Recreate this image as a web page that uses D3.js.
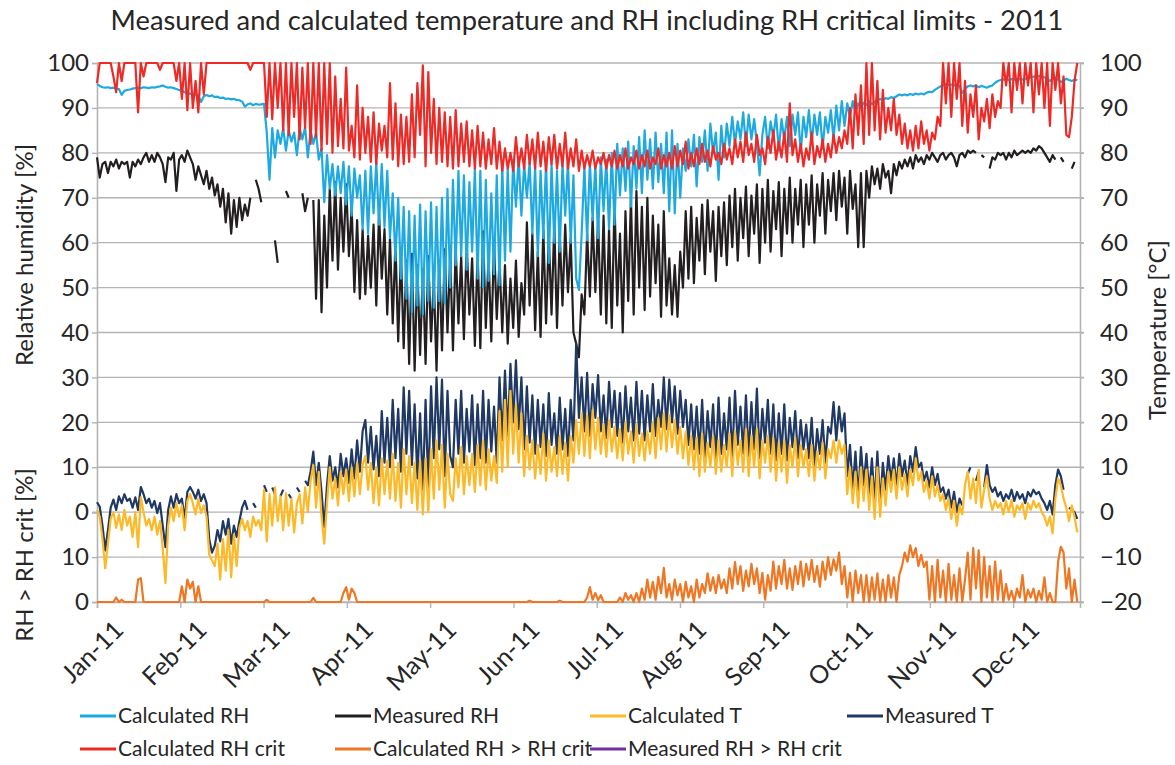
<!DOCTYPE html>
<html><head><meta charset="utf-8">
<script src="https://cdn.jsdelivr.net/npm/d3@7"></script>
<style>
body{margin:0;background:#fff}
svg{display:block}
text{font-family:Lato,"Open Sans",sans-serif;fill:#262626}
</style></head>
<body><svg id="chart" width="1175" height="765"></svg>
<script>
// ---- tick labels & series names ----
const monthLabels = ["Jan-11","Feb-11","Mar-11","Apr-11","May-11","Jun-11","Jul-11","Aug-11","Sep-11","Oct-11","Nov-11","Dec-11"];
const seriesNames = ["Calculated RH","Measured RH","Calculated T","Measured T","Calculated RH crit","Calculated RH > RH crit","Measured RH > RH crit"];
const rhTicks = [0,10,20,30,40,50,60,70,80,90,100];
const excTicks = [0,10];
const tTicks = [-20,-10,0,10,20,30,40,50,60,70,80,90,100];

// ---- daily values (one per day) ----
const calcRH = [
95.3,94.9,94.6,94.5,94.6,94.4,94.5,94.3,94.2,92.9,
93.8,94.0,94.1,94.3,94.4,94.5,94.4,94.6,94.5,94.4,
94.6,94.5,94.7,94.8,95.0,94.7,94.5,94.6,94.4,94.2,
94.0,93.8,93.5,93.3,93.2,92.9,93.0,92.8,91.3,92.6,
92.9,92.6,92.8,92.4,92.5,92.2,92.3,92.0,92.1,91.9,
92.0,91.8,91.7,91.4,90.3,90.8,91.0,90.6,90.9,90.7,
90.8,90.9,84.5,74.0,85.5,79.0,85.0,82.0,85.5,80.5,
85.0,82.5,84.5,79.5,85.5,83.0,85.7,79.0,85.0,82.0,
84.5,78.5,81.0,69.0,79.5,72.0,77.5,70.5,77.0,71.0,
78.0,68.5,77.0,66.0,76.5,70.0,75.0,63.0,76.0,62.0,
77.0,66.5,78.0,64.0,77.5,63.5,76.0,61.0,71.0,56.0,
70.0,52.0,68.0,47.5,67.0,44.5,66.0,46.0,68.5,44.0,
67.0,47.0,69.0,45.5,68.0,47.0,70.0,46.5,72.0,50.0,
74.0,55.0,76.0,57.0,75.0,54.0,73.5,58.0,76.5,52.0,
76.0,50.0,74.0,51.5,71.0,53.0,75.0,50.5,77.5,56.0,
76.5,58.0,78.5,68.0,79.0,66.0,77.5,70.0,78.0,62.0,
77.0,57.0,76.0,61.0,78.0,55.5,77.5,60.0,76.0,58.0,
77.5,66.0,78.0,60.0,75.0,52.0,49.5,62.0,77.0,60.5,
78.0,65.0,77.5,61.0,79.0,67.0,78.5,63.0,80.0,64.0,
82.0,70.5,81.0,71.5,82.5,68.0,81.5,72.0,83.5,71.0,
85.0,74.0,83.0,72.0,84.5,73.5,82.0,71.0,84.5,67.0,
85.0,66.5,82.0,70.0,81.0,76.0,83.0,77.0,84.0,72.5,
83.5,78.0,85.0,76.0,86.5,80.0,84.5,74.0,86.0,79.0,
86.5,81.5,88.0,82.0,87.0,83.0,89.0,81.5,88.5,83.0,
87.5,82.0,75.0,84.0,88.0,81.0,87.0,83.5,88.5,80.5,
87.5,83.0,88.0,81.5,88.5,84.0,89.0,80.0,88.0,83.5,
89.5,82.0,88.5,84.0,89.0,81.0,88.0,84.5,89.5,83.0,
90.5,85.0,91.5,86.0,91.0,88.0,91.5,89.0,91.0,90.0,
91.2,90.6,91.5,90.8,91.4,91.8,92.0,91.7,92.2,92.0,
92.4,92.2,92.6,93.0,92.8,93.0,92.8,93.1,92.9,93.2,
93.0,93.2,93.0,93.4,93.6,93.5,94.0,94.4,94.8,95.0,
95.3,95.1,95.2,95.0,95.3,94.8,93.3,94.2,94.8,95.0,
94.8,95.0,94.6,94.9,94.7,94.5,94.8,95.0,95.6,96.0,
96.2,96.3,96.4,96.2,96.4,96.3,96.5,96.4,96.3,96.5,
96.6,96.8,97.0,96.9,97.1,97.0,96.8,96.5,96.0,96.4,
96.8,96.3,95.8,96.0,96.5,96.2,96.0,96.3,96.2];

const measRH = [
79.0,74.5,77.5,78.0,75.5,78.0,77.0,78.5,76.5,78.0,
77.5,78.0,74.5,78.0,77.0,78.5,77.5,79.0,80.0,78.0,
79.5,78.0,80.0,79.0,77.5,73.5,79.0,78.5,80.0,71.5,
78.5,79.5,78.0,80.5,79.0,77.5,74.0,77.0,75.0,73.0,
76.0,72.0,74.5,70.5,73.0,68.0,72.0,64.5,71.0,62.0,
69.5,63.5,70.0,65.0,68.5,66.0,70.0,null,74.0,72.0,
69.0,null,null,null,null,60.5,55.5,null,null,71.5,
70.0,null,null,null,null,71.0,67.0,70.0,null,69.5,
47.5,69.5,44.5,66.0,50.0,72.0,56.0,73.5,54.0,70.0,
58.0,73.0,57.0,68.0,49.0,65.0,47.5,63.0,48.5,61.5,
50.0,64.0,46.0,66.5,52.0,63.0,44.0,61.0,42.0,60.0,
38.0,58.0,36.5,56.0,33.0,57.5,31.5,55.0,35.0,54.0,
33.0,57.0,38.0,52.0,31.5,56.0,36.0,58.5,40.0,57.0,
36.0,59.0,42.0,57.0,38.5,60.0,44.0,56.5,37.0,58.0,
36.5,62.5,41.0,57.0,38.0,60.0,43.0,56.0,40.0,55.0,
37.5,52.0,41.0,56.0,39.0,51.0,44.0,64.5,46.0,62.0,
40.5,58.0,39.0,63.0,42.0,61.5,44.0,64.0,41.0,62.0,
46.0,64.0,49.0,61.0,40.0,37.5,34.5,48.5,44.0,62.0,
48.0,65.5,49.0,65.0,44.0,66.0,42.0,63.0,41.0,69.0,
46.0,62.0,40.0,67.0,47.0,70.0,44.0,71.5,50.0,68.0,
45.0,70.0,48.0,66.0,51.0,64.0,43.5,67.0,46.0,56.5,
44.0,55.0,43.5,58.0,50.0,67.0,52.0,68.0,51.0,65.5,
56.0,68.5,53.0,69.5,58.0,67.0,51.5,68.0,57.0,69.0,
55.0,70.5,59.0,72.0,56.0,70.0,61.0,72.5,57.0,70.5,
62.0,73.0,55.5,72.0,60.0,74.0,58.0,71.5,63.0,73.5,
57.0,72.0,62.0,74.5,60.0,72.0,64.0,74.0,59.0,73.0,
64.0,75.0,60.0,73.0,66.0,75.5,62.0,74.0,67.0,75.5,
65.0,76.0,68.0,74.5,62.0,76.0,67.5,73.0,59.0,75.5,
59.0,76.0,70.0,77.0,73.0,76.5,72.0,77.5,74.5,76.0,
71.0,77.5,75.0,78.0,76.5,78.5,77.0,79.0,76.5,79.5,
78.0,79.0,77.5,79.5,78.5,80.0,79.0,78.0,79.5,80.0,
78.5,79.5,80.0,79.0,77.0,79.5,80.0,79.0,80.5,80.0,
80.5,80.0,null,79.5,79.0,null,76.5,79.0,78.5,80.0,
79.5,80.0,78.5,80.0,79.0,80.5,79.5,80.0,80.5,80.0,
80.5,80.0,81.0,80.5,81.5,81.0,80.0,79.0,78.0,79.5,
78.5,null,79.0,78.0,null,null,76.5,78.0,null];

const calcT = [
0.5,-1.0,-6.0,-12.5,-7.0,-1.5,0.0,-3.5,-0.5,-4.0,
0.5,-3.0,-1.0,-5.5,0.0,-7.8,3.3,0.0,-3.0,-1.5,
-4.0,-1.0,-5.0,-2.0,-8.0,-15.8,-3.0,1.0,-2.0,2.0,
-1.0,1.5,-4.0,2.5,4.0,2.0,-0.5,3.0,-0.2,1.5,
-1.0,-9.5,-10.7,-12.0,-7.0,-15.0,-6.0,-13.0,-4.0,-14.5,
-5.0,-12.0,-3.5,-1.5,-4.0,-2.0,-5.5,-1.0,-3.0,-1.8,
-4.0,5.0,-6.5,4.0,-3.0,5.5,-2.0,3.5,-4.0,4.2,
-3.0,3.0,-4.5,2.0,4.0,-2.5,5.5,0.0,7.0,10.5,
1.0,9.0,-1.0,-7.0,2.0,10.0,3.0,7.5,1.5,9.0,
4.0,9.5,2.5,10.0,3.5,11.0,4.0,10.5,12.5,5.0,
11.0,2.0,10.0,1.5,12.0,4.0,11.5,3.0,13.0,2.5,
11.0,1.0,14.0,4.0,12.5,2.0,11.0,0.5,11.5,-0.5,
12.0,0.0,14.0,3.0,16.0,5.0,15.0,1.0,13.0,4.0,
2.5,12.0,5.5,14.5,4.0,12.5,6.0,13.0,4.5,15.0,
6.0,16.0,5.0,14.0,7.0,12.5,6.5,22.5,9.0,25.0,
10.0,27.0,13.0,24.0,11.0,22.0,8.0,17.0,9.5,16.0,
7.5,15.0,8.5,17.5,7.0,16.0,9.0,14.5,8.0,17.0,
8.5,15.5,7.0,17.0,11.0,20.5,13.0,22.0,12.5,21.5,
12.0,22.7,14.0,21.0,13.0,19.5,12.3,20.5,13.5,19.0,
12.0,18.5,11.5,20.0,13.0,18.0,11.0,19.5,12.5,17.5,
11.5,18.0,13.0,20.0,12.0,21.0,14.0,22.0,13.5,21.5,
14.5,20.5,13.0,19.0,12.0,18.0,10.5,17.0,9.5,16.5,
8.0,17.5,9.0,15.5,10.0,17.0,8.5,16.0,9.0,15.0,
10.0,17.5,8.0,18.0,10.5,16.0,9.0,18.5,8.0,17.0,
10.0,18.5,7.5,16.0,11.0,17.0,9.0,16.5,7.0,15.5,
9.0,16.0,6.5,15.0,10.0,16.5,8.0,15.0,10.0,14.0,
8.0,15.0,7.0,13.5,9.5,15.5,7.5,14.0,12.0,16.0,
11.0,16.0,13.0,15.0,4.0,10.0,2.0,9.0,1.0,10.0,
2.5,9.5,0.5,8.0,-1.5,10.0,-1.0,7.5,1.5,9.0,
4.5,9.5,3.0,10.0,5.0,8.5,3.5,9.5,6.0,12.0,
7.0,9.0,4.5,7.0,3.0,8.0,3.5,6.0,2.5,4.0,
0.5,3.0,-1.5,2.5,-3.0,1.5,-0.5,6.0,9.0,3.0,
7.5,2.0,9.4,1.0,5.0,8.0,3.0,0.5,2.5,1.0,
2.0,-0.5,2.5,0.0,2.7,-1.0,1.5,0.5,2.0,-1.5,
2.0,0.5,2.5,1.0,2.0,0.0,-1.0,-3.0,-1.0,-4.7,
3.0,7.5,6.0,3.0,1.0,-2.0,1.5,-1.0,-4.5];

const measT = [
2.2,1.2,-3.0,-8.5,-4.0,1.0,2.8,0.5,3.5,2.0,
4.0,2.5,3.0,1.0,3.3,0.5,5.6,4.0,2.0,3.0,
1.0,2.5,-0.2,2.0,-3.0,-7.8,0.5,3.5,1.0,4.0,
2.0,3.0,-1.5,4.5,5.6,4.5,3.0,5.0,2.5,4.0,
2.0,-6.0,-9.0,-7.5,-4.0,-6.5,-2.0,-5.0,-1.5,-7.0,
-3.0,-5.5,-2.0,1.0,2.5,0.5,null,2.0,1.0,null,
null,6.0,4.5,null,5.5,4.0,null,3.5,5.0,null,
4.0,3.0,null,5.5,4.5,null,7.0,6.0,9.0,13.5,
6.0,11.0,4.5,-3.3,6.0,12.5,7.0,10.0,5.5,13.0,
8.0,12.0,6.5,14.0,7.5,16.0,9.0,18.0,20.5,11.0,
19.0,9.5,17.0,8.0,22.5,11.0,21.0,10.0,25.0,12.0,
23.0,9.0,27.8,13.0,27.0,10.5,24.0,7.5,22.0,5.0,
25.0,5.5,28.0,12.0,30.0,14.0,29.5,8.0,27.0,12.5,
10.0,25.0,13.0,27.0,11.0,23.0,13.5,26.0,10.5,24.0,
12.0,27.0,11.0,25.0,13.5,23.5,11.0,30.0,16.0,31.5,
17.0,33.0,20.0,33.8,18.5,30.0,14.0,28.0,15.5,26.0,
13.0,25.0,14.5,24.0,12.5,26.5,15.0,22.0,13.0,25.5,
14.0,23.0,12.5,25.0,16.0,37.6,21.0,30.0,18.0,31.0,
17.0,28.5,21.0,30.5,18.0,26.0,16.5,29.0,19.0,27.0,
17.0,26.5,15.5,28.0,18.0,25.5,16.0,29.0,17.5,27.0,
16.0,26.0,18.0,28.5,17.0,25.0,19.0,30.0,18.5,29.5,
20.0,28.0,17.5,27.0,19.0,25.0,15.0,24.0,14.0,23.5,
13.0,25.0,12.0,22.5,14.5,24.0,11.5,25.5,13.0,22.0,
14.0,25.5,12.0,27.0,15.0,23.5,13.0,26.0,12.5,24.5,
14.0,27.5,12.0,23.0,15.5,25.0,13.0,24.0,11.5,22.0,
13.0,24.0,11.5,21.0,14.5,22.5,12.0,20.5,14.0,19.5,
12.0,21.0,10.0,18.5,13.0,20.5,11.0,19.0,17.5,24.5,
16.0,23.5,18.0,22.0,8.0,15.0,5.0,13.5,3.0,14.5,
6.0,13.0,4.0,12.0,2.0,13.5,1.5,11.0,5.0,12.5,
7.0,12.0,5.5,13.0,8.0,11.5,6.0,12.5,9.0,14.5,
10.0,11.0,7.0,9.0,5.5,10.0,6.0,8.5,4.5,5.5,
3.0,5.0,1.0,4.5,0.0,3.0,1.5,null,8.5,10.0,
null,7.0,9.0,null,5.5,10.5,6.0,4.5,5.5,3.5,
4.5,2.5,4.0,3.0,5.0,2.5,4.5,3.0,4.0,2.0,
4.5,3.5,5.0,4.0,4.5,3.0,2.0,0.5,2.5,-0.5,
6.0,9.5,8.0,5.0,null,1.0,0.5,0.0,-1.5];

const calcRHcrit = [
95.5,100,100,100,100,100,97.0,93.5,100,96.0,
100,100,100,100,100,89.0,100,97.0,100,100,
100,100,100,98.5,100,100,100,100,100,96.0,
100,92.0,100,89.5,100,90.0,96.0,89.0,100,93.0,
100,100,100,100,100,100,100,100,100,100,
100,100,100,100,100,100,98.5,100,100,100,
100,100,88.0,100,87.5,100,90.0,100,85.0,100,
84.0,100,88.0,100,83.0,99.0,85.5,100,82.0,100,
83.5,100,80.5,100,82.0,100,80.0,97.0,81.5,92.0,
81.0,99.0,80.5,86.0,79.0,95.0,78.5,90.0,80.0,88.0,
78.0,89.0,77.5,86.5,80.5,86.0,79.0,95.5,78.5,91.0,
77.0,88.5,77.5,88.0,78.0,93.0,79.0,95.5,84.0,99.5,
77.0,98.0,80.0,92.0,77.5,90.0,78.0,89.0,77.0,88.0,
76.5,89.5,77.0,86.5,78.0,87.0,77.0,85.0,76.5,86.0,
77.0,84.5,76.5,83.0,77.5,85.5,76.5,82.5,76.0,81.0,
76.5,80.0,76.0,83.5,77.0,81.0,76.5,84.0,77.5,83.0,
76.5,84.5,77.0,82.5,76.0,83.5,77.5,84.0,76.5,82.0,
77.0,84.5,76.5,81.0,77.0,83.0,76.0,80.5,76.5,79.5,
77.0,80.5,76.5,79.0,77.5,80.0,76.5,79.5,77.0,80.5,
76.5,79.5,77.0,81.0,76.5,79.0,77.5,80.5,76.5,79.5,
77.0,80.5,76.5,79.0,77.5,81.0,76.5,79.5,77.0,80.0,
76.5,81.5,77.0,80.5,77.5,82.5,76.5,80.0,77.0,81.0,
77.5,82.0,78.0,80.5,77.0,81.5,78.5,80.0,77.5,82.0,
78.5,81.0,77.5,83.0,79.0,82.5,78.0,84.5,79.5,82.0,
78.0,84.0,79.5,81.0,77.5,83.5,80.0,85.0,78.5,82.5,
79.0,84.5,78.0,91.0,79.5,83.0,78.0,82.0,77.0,81.0,
78.5,84.5,77.5,81.5,79.0,83.0,78.0,82.0,79.0,84.0,
80.0,83.5,81.0,85.0,82.0,90.0,81.0,93.0,84.0,95.0,
82.0,100,84.0,100,85.0,96.0,83.0,94.0,84.5,90.0,
85.0,92.0,84.0,88.5,82.0,86.5,81.0,85.0,80.5,86.0,
81.0,87.0,82.0,85.0,80.5,84.5,83.0,88.0,86.0,100,
91.0,100,88.0,100,92.0,100,86.0,96.0,84.5,93.0,
88.0,95.0,83.0,90.0,87.0,92.0,85.5,93.0,88.0,91.5,
90.0,100,95.0,100,89.0,100,94.0,100,91.0,100,
95.0,100,89.0,100,93.0,100,90.0,100,86.0,100,
94.0,100,91.0,97.0,84.0,83.5,88.0,96.0,100];

const calcRHexc = [
0,0,0,0,0,0,0,1.0,0,0.5,
0,0,0,0,0,5.0,5.3,0,0,0,
0,0,0,0,0,0,0,0,0,0,
0,3.5,0,5.0,3.0,4.5,0,3.5,0,0,
0,0,0,0,0,0,0,0,0,0,
0,0,0,0,0,0,0,0,0,0,
0,0,0.5,0,0,0,0,0,0,0,
0,0,0,0,0,0,0,0,0,0.9,
0,0,0,0,0,0,0,0,0,0,
2.0,3.3,0.5,3.0,2.0,0,0,0,0,0,
0,0,0,0,0,0,0,0,0,0,
0,0,0,0,0,0,0,0,0,0,
0,0,0,0,0,0,0,0,0,0,
0,0,0,0,0,0,0,0,0,0,
0,0,0,0,0,0,0,0,0,0,
0,0,0,0,0,0,0,0,0.3,0,
0,0,0,0,0,0,0,0,0,0.3,
0,0,0,0,0,0,0,0,0,1.0,
3.3,0.5,2.0,0.4,1.5,0,0,0,0,0,
0,1.0,0,2.0,0.5,1.5,0,2.0,0,3.0,
0.5,5.0,1.0,4.5,0.5,5.6,2.0,7.6,1.0,4.0,
0.5,5.0,1.5,4.0,0,4.5,1.0,3.5,0,5.0,
1.0,4.0,2.0,6.4,2.5,5.5,2.0,6.0,3.0,5.0,
2.0,7.5,3.0,8.9,4.0,8.0,2.5,7.0,3.5,8.5,
4.0,7.5,2.0,6.5,0.5,6.0,2.5,9.0,3.0,8.0,
4.0,9.4,3.0,7.5,2.7,8.0,4.0,9.0,3.5,8.5,
5.0,9.4,4.5,8.0,3.4,9.0,5.0,10.0,6.0,9.5,
7.0,11.0,4.0,8.0,1.0,6.5,0,7.0,2.0,6.0,
0,6.0,0,5.5,0.5,6.4,0,5.0,0,6.0,
1.0,5.5,0,6.0,8.0,11.0,9.0,12.6,10.0,12.0,
8.0,10.5,7.8,9.0,0.5,8.0,0,9.4,1.0,7.0,
0,8.5,0.5,6.0,0,7.5,0,5.0,11.0,0.5,
12.0,3.0,11.5,0,10.0,1.0,8.0,0,9.0,0.5,
7.0,0,4.0,0.5,2.5,0,3.0,1.0,6.0,0,
2.7,1.0,3.0,0,2.5,0.5,5.5,0,2.0,0,
0,9.0,12.3,11.0,3.0,7.5,0,5.0,0];

const measRHexc = []; // not visible in the picture

// ---- layout ----
const svg = d3.select("#chart");
const L = 97, R = 1080, T = 63, B = 602;
const nDays = calcRH.length;
const x = d3.scaleLinear().domain([0, nDays]).range([L, R]);
const yT = d3.scaleLinear().domain([-20, 100]).range([B, T]);
const yRH = d3.scaleLinear().domain([0, 100]).range([yT(0), yT(100)]);
const yExc = d3.scaleLinear().domain([0, 20]).range([B, yT(0)]);
const monthStep = 365 / 12;
const FONT = "Lato, 'Open Sans', sans-serif";
const gridColor = "#b4b4b4";

// gridlines
svg.append("g").selectAll("line").data(tTicks).join("line")
  .attr("x1", L).attr("x2", R + 4)
  .attr("y1", d => yT(d)).attr("y2", d => yT(d))
  .attr("stroke", gridColor).attr("stroke-width", 1.4);

// axes
const axL = svg.append("g").attr("transform", `translate(${L},0)`)
  .call(d3.axisLeft(yRH).tickValues(rhTicks).tickSize(5).tickPadding(3));
const axL2 = svg.append("g").attr("transform", `translate(${L},0)`)
  .call(d3.axisLeft(yExc).tickValues(excTicks).tickSize(5).tickPadding(3));
const axR = svg.append("g").attr("transform", `translate(${R},0)`)
  .call(d3.axisRight(yT).tickValues(tTicks).tickSize(4).tickPadding(16));
const axB = svg.append("g").attr("transform", `translate(0,${B})`)
  .call(d3.axisBottom(x).tickValues(monthLabels.map((m, i) => i * monthStep))
    .tickFormat((d, i) => monthLabels[i]).tickSize(6).tickPadding(4));

[axL, axL2, axR, axB].forEach(g => {
  g.select(".domain").attr("stroke", gridColor).attr("stroke-width", 1.6);
  g.selectAll(".tick line").attr("stroke", gridColor).attr("stroke-width", 1.4);
  g.selectAll("text").style("font-family", FONT)
    .style("font-size", "24px").attr("fill", "#262626");
});
axB.selectAll("text")
  .style("font-size", "25px")
  .attr("text-anchor", "end")
  .attr("transform", "translate(8,3) rotate(-45)")
  .attr("dy", "0.9em").attr("dx", "-0.2em");

// series
const line = yScale => d3.line()
  .defined(d => d != null)
  .x((d, i) => x(i))
  .y(d => yScale(d));

function draw(data, yScale, color, w) {
  svg.append("path").datum(data)
    .attr("fill", "none").attr("stroke", color)
    .attr("stroke-width", w).attr("stroke-linejoin", "round")
    .attr("d", line(yScale));
}
const colors = {
  calcRH: "#1fa9e1", measRH: "#231f20", calcT: "#fdb927", measT: "#1f3864",
  crit: "#ee2a27", exc: "#ef7622", mexc: "#7030a0"
};
draw(measRH, yRH, colors.measRH, 2.2);
draw(measT, yT, colors.measT, 2.2);
draw(calcRH, yRH, colors.calcRH, 2.2);
draw(calcT, yT, colors.calcT, 2.2);
draw(calcRHcrit, yRH, colors.crit, 2.2);
draw(calcRHexc, yExc, colors.exc, 2.2);
if (measRHexc.length) draw(measRHexc, yExc, colors.mexc, 2.2);

// title
svg.append("text").attr("x", 587).attr("y", 30).attr("text-anchor", "middle")
  .style("font-size", "27.3px").text("Measured and calculated temperature and RH including RH critical limits - 2011");

// axis titles
svg.append("text").attr("transform", "translate(33,255) rotate(-90)")
  .attr("text-anchor", "middle").style("font-size", "24px").text("Relative humidity [%]");
svg.append("text").attr("transform", "translate(33,555) rotate(-90)")
  .attr("text-anchor", "middle").style("font-size", "24px").text("RH > RH crit [%]");
svg.append("text").attr("transform", "translate(1166,330) rotate(-90)")
  .attr("text-anchor", "middle").style("font-size", "24px").text("Temperature [°C]");

// legend
const legendColors = [colors.calcRH, colors.measRH, colors.calcT, colors.measT, colors.crit, colors.exc, colors.mexc];
const colX = [80, 335, 590, 847];
const rowY = [716, 749];
const lg = svg.append("g").selectAll("g").data(seriesNames).join("g")
  .attr("transform", (d, i) => `translate(${colX[i % 4]},${rowY[Math.floor(i / 4)]})`);
lg.append("line").attr("x1", 0).attr("x2", 36).attr("y1", 0).attr("y2", 0)
  .attr("stroke", (d, i) => legendColors[i]).attr("stroke-width", 3);
lg.append("text").attr("x", 38).attr("y", 7).style("font-size", "21px").text(d => d);
</script></body></html>
